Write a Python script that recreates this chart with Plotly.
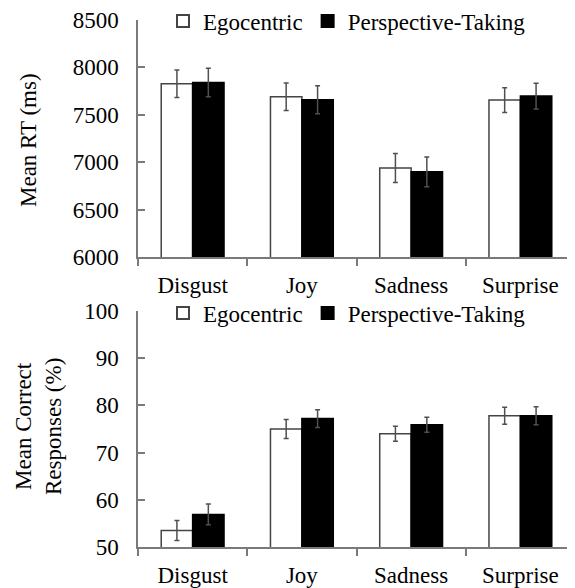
import plotly.graph_objects as go

categories = ["Disgust", "Joy", "Sadness", "Surprise"]

rt_ego = [7827, 7690, 6940, 7655]
rt_ego_err = [145, 145, 153, 130]
rt_pt = [7841, 7658, 6898, 7697]
rt_pt_err = [150, 148, 157, 136]

acc_ego = [53.5, 75.0, 74.0, 77.8]
acc_ego_err = [2.1, 2.0, 1.6, 1.8]
acc_pt = [56.9, 77.2, 75.9, 77.8]
acc_pt_err = [2.2, 1.9, 1.6, 1.9]

rt_ticks = [6000, 6500, 7000, 7500, 8000, 8500]
acc_ticks = [50, 60, 70, 80, 90, 100]

# page has an 8px body margin: figure is sized to fill the rest of the window
OFF = 8
W, H = 575 - OFF, 588 - OFF

def px(x):  # page pixel -> paper fraction (x)
    return (x - OFF) / W

def py(y):  # page pixel -> paper fraction (y)
    return 1 - (y - OFF) / H

FONT = "Liberation Serif, Times New Roman, serif"
FS = 23
AX = "#7a7a7a"
ERR = dict(type="data", thickness=1.5, width=2.5, color="#505050")

fig = go.Figure()

def add(vals, errs, name, fill, xa, ya, legend):
    fig.add_trace(go.Bar(
        x=categories, y=vals, name=name,
        error_y=dict(array=errs, **ERR),
        marker=dict(color=fill, line=dict(color="#444444" if fill == "white" else "black", width=1.5)),
        xaxis=xa, yaxis=ya, legend=legend, showlegend=True,
    ))

add(rt_ego, rt_ego_err, "Egocentric", "white", "x", "y", "legend")
add(rt_pt, rt_pt_err, "Perspective-Taking", "black", "x", "y", "legend")
add(acc_ego, acc_ego_err, "Egocentric", "white", "x2", "y2", "legend2")
add(acc_pt, acc_pt_err, "Perspective-Taking", "black", "x2", "y2", "legend2")

xcommon = dict(
    domain=[px(138), 1.0], range=[-0.5, 3.5], showline=True, linecolor=AX, linewidth=1.5,
    ticks="outside", ticklen=7, tickcolor=AX, tickwidth=1.5, tickson="boundaries",
    showgrid=False, tickfont=dict(family=FONT, size=FS, color="black"),
    ticklabelstandoff=7, automargin=False,
)
ycommon = dict(
    showline=True, linecolor=AX, linewidth=1.5, ticks="inside", ticklen=7,
    tickcolor=AX, tickwidth=1.5, showgrid=False, zeroline=False,
    tickfont=dict(family=FONT, size=FS, color="black"), ticklabelstandoff=13,
    automargin=False,
)

legcommon = dict(
    orientation="h", xanchor="left", yanchor="middle", x=px(163),
    font=dict(family=FONT, size=FS, color="black"), bgcolor="rgba(0,0,0,0)",
    itemsizing="constant", tracegroupgap=0, itemwidth=30,
)

fig.update_layout(
    width=W, height=H,
    margin=dict(l=0, r=0, t=0, b=0, autoexpand=False),
    paper_bgcolor="white", plot_bgcolor="white",
    barmode="group", bargap=0.425, bargroupgap=0,
    showlegend=True,
    xaxis=dict(anchor="y", **xcommon),
    yaxis=dict(anchor="x", domain=[py(257), py(20)], range=[6000, 8500],
               tickvals=rt_ticks, **ycommon),
    xaxis2=dict(anchor="y2", **xcommon),
    yaxis2=dict(anchor="x2", domain=[py(547), py(311)], range=[50, 100],
                tickvals=acc_ticks, **ycommon),
    legend=dict(y=py(21), **legcommon),
    legend2=dict(y=py(313), **legcommon),
    annotations=[
        dict(text="Mean RT (ms)", textangle=-90, x=px(28), y=py(140),
             xanchor="center", yanchor="middle",
             xref="paper", yref="paper", showarrow=False,
             font=dict(family=FONT, size=FS, color="black")),
        dict(text="Mean Correct<br>Responses (%)", textangle=-90, x=px(39), y=py(427),
             xanchor="center", yanchor="middle",
             xref="paper", yref="paper", showarrow=False,
             font=dict(family=FONT, size=FS, color="black")),
    ],
)

fig.write_html("out.html")
